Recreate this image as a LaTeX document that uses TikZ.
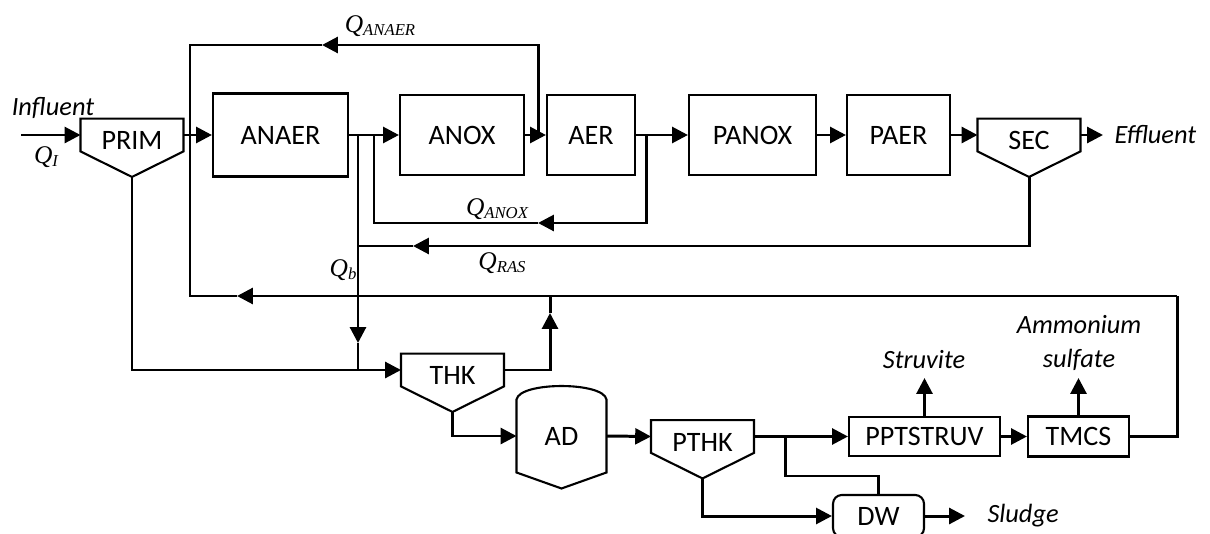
\documentclass[tikz,border=0pt]{standalone}
\usepackage{fontspec}
\setmainfont{Carlito}
\newfontfamily\qfont{Liberation Serif}
\usetikzlibrary{arrows.meta,calc}
\newcommand\qflow[1]{{\qfont\itshape\fontsize{14.5}{15}\selectfont Q\raisebox{-1.6pt}{\fontsize{9.5}{10}\selectfont #1}}}

\begin{document}
\begin{tikzpicture}[x=0.02cm, y=-0.02cm, line width=1.7pt,
    arr/.style={-{Triangle[length=9pt,width=9pt]}},
    box/.style={draw, line width=1.2pt, minimum height=1.6cm, font=\fontsize{16}{19}\selectfont},
    clar/.style={inner sep=0pt, minimum width=2cm, text height=17pt, text depth=-1.5pt, font=\fontsize{16}{19}\selectfont},
    lab/.style={inner sep=0pt, font=\fontsize{15}{19}\selectfont\itshape},
    qlab/.style={inner sep=0pt}]
    \useasboundingbox (0,0) rectangle (1210,534);
    \node[box, minimum width=2.7cm, minimum height=1.66cm] (anaer) at (280.5,135) {ANAER};
    \node[box, minimum width=2.48cm] (anox) at (462,135) {ANOX};
    \node[box, minimum width=1.76cm] (aer) at (591,135) {AER};
    \node[box, minimum width=2.54cm] (panox) at (752.5,135) {PANOX};
    \node[box, minimum width=2.06cm] (paer) at (898.5,135) {PAER};
    \node[clar] (prim) at (132,135) {PRIM};
    \node[clar] (sec) at (1029,135) {SEC};
    \node[clar] (thk) at (452.5,370) {THK};
    \node[clar] (pthk) at (702.5,436.5) {PTHK};
    \node[minimum width=1.74cm, minimum height=1.4cm, font=\fontsize{16}{19}\selectfont] (ad) at (561.5,436) {AD};
    \node[box, minimum width=3.02cm, minimum height=0.78cm] (ppt) at (924.5,436.5) {PPTSTRUV};
    \node[box, minimum width=2.02cm, minimum height=0.8cm] (tmcs) at (1078.5,436.5) {TMCS};
    \node[box, rounded corners=5pt, minimum width=1.82cm, minimum height=0.84cm] (dw) at (878.5,516) {DW};
    \foreach \c in {prim,sec,thk,pthk} {
      \draw[line width=1.2pt] (\c.north west) -- (\c.north east) -- (\c.south east) -- ($(\c.south)+(0,25.5)$) -- (\c.south west) -- cycle;
      \coordinate (\c-b) at ($(\c.south)+(0,25.5)$);
    }
    \draw[line width=1.2pt] (ad.south west) -- (ad.north west) .. controls +(3,-18) and +(-3,-18) .. (ad.north east) -- (ad.south east) -- ($(ad.south)+(0,16)$) -- cycle;

    \node[lab] (influent) at (53,108) {Influent};
    \node[lab, anchor=west] (effluent) at (1113,135) {Effluent};
    \node[lab, anchor=west] (sludge) at (986,516) {Sludge};
    \node[lab] (struvite) at (924,360) {Struvite};
    \node[lab, align=center] (ammonium) at (1079,343) {Ammonium\\sulfate};
    \node[qlab] (qi) at (46,157) {\qflow{I}};
    \node[qlab] (qanaer) at (380,26) {\qflow{ANAER}};
    \node[qlab] (qanox) at (497,209) {\qflow{ANOX}};
    \node[qlab] (qras) at (502,263) {\qflow{RAS}};
    \node[qlab] (qb) at (343,270) {\qflow{b}};

    \coordinate (infl) at (21,135);
    \coordinate (jin) at (190,135);
    \coordinate (jb) at (358,135);
    \coordinate (jx) at (374,135);
    \coordinate (ja) at (538,135);
    \coordinate (jo) at (646,135);
    \coordinate (efl) at (1103,135);
    \coordinate (tipa) at (322,45);
    \coordinate (tipx) at (538,223);
    \coordinate (tipr) at (413,246);
    \coordinate (tipb) at (358,343);
    \coordinate (tipt) at (237,296);
    \coordinate (tipk) at (550,313);
    \coordinate (rc) at (1177,296);
    \coordinate (jd) at (785,436.5);
    \coordinate (dwc) at (878.5,476);
    \coordinate (slg) at (965,516);
    \coordinate (stv) at (924.5,378);
    \coordinate (ams) at (1078.5,378);

    \draw[arr] (infl) -- (prim.west);
    \draw[arr] (prim.east) -- (anaer.west);
    \draw[arr] (anaer.east) -- (anox.west);
    \draw[arr] (anox.east) -- (aer.west);
    \draw[arr] (aer.east) -- (panox.west);
    \draw[arr] (panox.east) -- (paer.west);
    \draw[arr] (paer.east) -- (sec.west);
    \draw[arr] (sec.east) -- (efl);
    \draw[arr] (ja) |- (tipa);
    \draw (tipa) -| (jin);
    \draw[arr] (jo) |- (tipx);
    \draw (tipx) -| (jx);
    \draw[arr] (sec-b) |- (tipr);
    \draw (tipr) -- (tipr -| jb);
    \draw[arr] (jb) -- (tipb);
    \draw (tipb) -- (jb |- thk.west);
    \draw[arr] (prim-b) |- (thk.west);
    \draw[arr] (thk.east) -| (tipk);
    \draw (tipk) -- (tipk |- rc);
    \draw (tmcs.east) -| (rc);
    \draw[arr] (rc) -- (tipt);
    \draw (tipt) -| (jin);
    \draw[arr] (thk-b) |- (ad.west);
    \draw[arr] (ad.east) -- (pthk.west);
    \draw[arr] (pthk.east) -- (ppt.west);
    \draw (jd) |- (dwc) -- (dw.north);
    \draw[arr] (pthk-b) |- (dw.west);
    \draw[arr] (dw.east) -- (slg);
    \draw[arr] (ppt.east) -- (tmcs.west);
    \draw[arr] (ppt.north) -- (stv);
    \draw[arr] (tmcs.north) -- (ams);
\end{tikzpicture}
\end{document}
